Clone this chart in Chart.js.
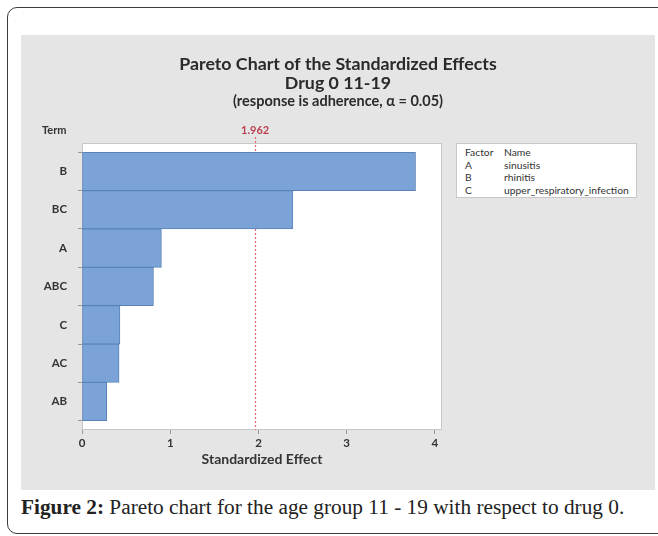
<!DOCTYPE html>
<html>
<head>
<meta charset="utf-8">
<script src="https://cdn.jsdelivr.net/npm/chart.js@4.4.0/dist/chart.umd.min.js"></script>
<style>
  html, body { margin: 0; padding: 0; background: #fff; }
  body { width: 658px; height: 536px; overflow: hidden; position: relative; }
  #frame {
    position: absolute; left: 7px; top: 7px; width: 720px; height: 527px;
    border: 1.5px solid #3c3c3c; border-radius: 10px; box-sizing: border-box;
  }
  #panel {
    position: absolute; left: 21px; top: 35px; width: 634px; height: 455px;
    background: #e5e5e5;
  }
  #factors {
    position: absolute; left: 456px; top: 143px; width: 181px; height: 55px;
    background: #fff; border: 1px solid #c8c8c8; box-sizing: border-box;
    font-family: Lato, sans-serif; font-size: 10.3px; color: #333;
    padding-top: 2px;
  }
  #factors div { height: 12.5px; line-height: 12.5px; position: relative; }
  #factors span { position: absolute; }
  #factors .code { left: 8px; }
  #factors .name { left: 47px; }
  #caption {
    position: absolute; left: 21px; top: 497px; line-height: 21px;
    font-family: "Liberation Serif", serif; font-size: 21.3px; color: #222;
    white-space: nowrap;
  }
</style>
</head>
<body>
<div id="frame"></div>
<div id="panel"><canvas id="pareto" width="634" height="455"></canvas></div>
<div id="factors"></div>
<div id="caption"><b>Figure 2:</b> Pareto chart for the age group 11 - 19 with respect to drug 0.</div>
<script>
// terms sorted by absolute standardized effect
const terms = ['B', 'BC', 'A', 'ABC', 'C', 'AC', 'AB'];
const effects = [3.78, 2.39, 0.90, 0.81, 0.43, 0.42, 0.28];
const xTicks = [0, 1, 2, 3, 4];
const critical = 1.962;
const factorCodes = ['A', 'B', 'C'];
const factorNames = ['sinusitis', 'rhinitis', 'upper_respiratory_infection'];

const fontFam = 'Lato, "Open Sans", sans-serif';

// factor table on the right
let tbl = document.getElementById('factors');
let rows = '<div><span class="code">Factor</span><span class="name">Name</span></div>';
for (let i in factorCodes) {
    rows += `<div><span class="code">${factorCodes[i]}</span><span class="name">${factorNames[i]}</span></div>`;
}
tbl.innerHTML = rows;

// white plot area, frame, reference line (behind the bars) and the extra labels
const decor = {
    id: 'decor',
    beforeDraw(chart) {
        const a = chart.chartArea;
        const c = chart.ctx;
        c.save();
        c.fillStyle = '#ffffff';
        c.fillRect(a.left, a.top, a.right - a.left, a.bottom - a.top);
        c.strokeStyle = '#c8c8c8';
        c.lineWidth = 1;
        c.strokeRect(a.left + 0.5, a.top + 0.5, a.right - a.left - 1, a.bottom - a.top - 1);
        c.restore();
    },
    beforeDatasetsDraw(chart) {
        const a = chart.chartArea;
        const c = chart.ctx;
        const x = chart.scales.x.getPixelForValue(critical);
        c.save();
        c.strokeStyle = '#e2697c';
        c.lineWidth = 1.2;
        c.setLineDash([2, 2]);
        c.beginPath();
        c.moveTo(Math.round(x) + 0.5, a.top - 6);
        c.lineTo(Math.round(x) + 0.5, a.bottom);
        c.stroke();
        c.setLineDash([]);

        c.font = 'bold 11px ' + fontFam;
        c.textBaseline = 'middle';
        c.fillStyle = '#b9404f';
        c.textAlign = 'center';
        c.fillText(critical.toFixed(3), x, a.top - 13);
        c.fillStyle = '#333';
        c.textAlign = 'left';
        c.fillText('Term', 21, a.top - 13);
        c.restore();
    }
};

const ctx = document.getElementById('pareto').getContext('2d');
const myChart = new Chart(ctx, {
    type: 'bar',
    data: {
        datasets: [{
            data: effects.map((v, i) => ({x: v, y: i})),
            backgroundColor: '#7ba3d7',
            borderColor: '#5a83b8',
            borderWidth: 1,
            borderSkipped: false,
            barPercentage: 1,
            categoryPercentage: 1
        }]
    },
    options: {
        indexAxis: 'y',
        responsive: false,
        animation: false,
        layout: { padding: 0 },
        scales: {
            x: {
                type: 'linear',
                min: 0,
                max: 4.08,
                afterBuildTicks: (s) => { s.ticks = xTicks.map(v => ({value: v})); },
                afterFit: (s) => { s.height = 60; },
                ticks: { color: '#333', font: { family: fontFam, size: 11.5, weight: 'bold' }, padding: 2 },
                grid: { drawOnChartArea: false, tickLength: 4, color: '#9a9a9a' },
                border: { display: false },
                title: {
                    display: true,
                    text: 'Standardized Effect',
                    color: '#333',
                    font: { family: fontFam, size: 14, weight: 'bold' },
                    padding: { top: 0, bottom: 22 }
                }
            },
            y: {
                type: 'linear',
                reverse: true,
                offset: false,
                min: -0.74,
                max: 6.74,
                afterBuildTicks: (s) => { s.ticks = terms.map((t, i) => ({value: i})); },
                afterFit: (s) => { s.width = 61; },
                ticks: {
                    color: '#333',
                    font: { family: fontFam, size: 11.5, weight: 'bold' },
                    padding: 11,
                    callback: (v) => terms[v]
                },
                grid: { drawOnChartArea: false, tickLength: 4, color: '#9a9a9a' },
                border: { display: false }
            },
            // empty axis on the right keeps room for the factor table
            side: {
                type: 'linear',
                position: 'right',
                afterFit: (s) => { s.width = 213; },
                ticks: { display: false },
                grid: { display: false },
                border: { display: false }
            }
        },
        plugins: {
            legend: { display: false },
            tooltip: { enabled: false },
            title: {
                display: true,
                text: ['Pareto Chart of the Standardized Effects', 'Drug 0 11-19'],
                color: '#2a2a2a',
                font: { family: fontFam, size: 17.8, weight: 'bold', lineHeight: 19 / 17.8 },
                padding: { top: 20, bottom: 0 }
            },
            subtitle: {
                display: true,
                text: '(response is adherence, \u03b1 = 0.05)',
                color: '#2a2a2a',
                font: { family: fontFam, size: 14.5, weight: 'bold', lineHeight: 16 / 14.5 },
                padding: { top: 0, bottom: 34 }
            }
        }
    },
    plugins: [decor]
});
</script>
</body>
</html>
